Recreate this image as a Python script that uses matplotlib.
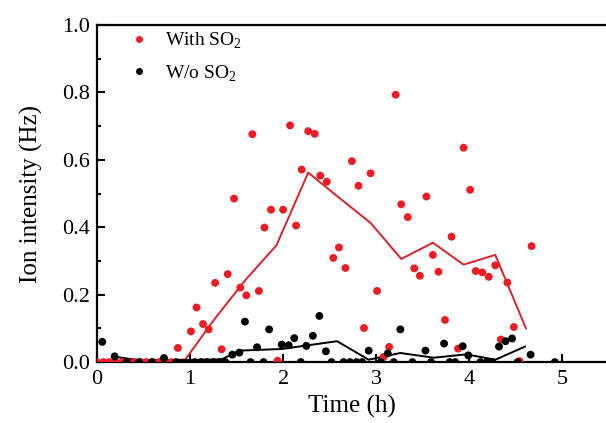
import numpy as np
import matplotlib.pyplot as plt
from matplotlib.lines import Line2D
from matplotlib.ticker import MultipleLocator

plt.rcParams['font.family'] = ['Liberation Serif', 'DejaVu Serif']
plt.rcParams['mathtext.fontset'] = 'custom'
plt.rcParams['mathtext.rm'] = 'Liberation Serif'

# with SO2: scatter points (time in h, intensity in Hz)
with_t = [0.0, 0.07, 0.13, 0.2, 0.27, 0.33, 0.4, 0.47, 0.53, 0.6, 0.67, 0.73, 0.8,
          0.87, 1.01, 1.07, 1.14, 1.20, 1.27, 1.34, 1.405, 1.473, 1.54, 1.605, 1.67,
          1.74, 1.80, 1.87, 1.94, 2.00, 2.075, 2.14, 2.20, 2.27, 2.34, 2.40, 2.47,
          2.54, 2.60, 2.67, 2.74, 2.81, 2.87, 2.94, 3.01, 3.08, 3.14, 3.21, 3.27,
          3.34, 3.41, 3.47, 3.54, 3.61, 3.67, 3.74, 3.81, 3.88, 3.94, 4.01, 4.07,
          4.14, 4.21, 4.28, 4.34, 4.41, 4.48, 4.54, 4.67]
with_v = [0.0, 0.0, 0.0, 0.0, 0.0, 0.0, 0.0, 0.0, 0.0, 0.0, 0.0, 0.0, 0.0,
          0.042, 0.091, 0.162, 0.113, 0.097, 0.235, 0.038, 0.261, 0.485, 0.221, 0.198, 0.676,
          0.211, 0.399, 0.452, 0.004, 0.452, 0.702, 0.405, 0.571, 0.685, 0.677, 0.553, 0.535,
          0.309, 0.340, 0.279, 0.596, 0.523, 0.101, 0.560, 0.211, 0.015, 0.045, 0.793, 0.468,
          0.430, 0.278, 0.256, 0.491, 0.318, 0.268, 0.125, 0.372, 0.040, 0.636, 0.511, 0.270,
          0.266, 0.253, 0.287, 0.067, 0.236, 0.104, 0.003, 0.344]

# with SO2: averaged trend line
with_line_t = [0.0, 0.28, 0.61, 0.95, 1.27, 1.6, 1.93, 2.27, 2.6, 2.94, 3.27, 3.61, 3.94, 4.28, 4.61]
with_line_v = [0.003, 0.003, 0.003, 0.008, 0.13, 0.245, 0.347, 0.562, 0.488, 0.413, 0.306, 0.354, 0.289, 0.318, 0.100]

# without SO2: scatter points
wo_t = [0.057, 0.19, 0.32, 0.45, 0.59, 0.72, 0.85, 1.05, 1.12, 1.18, 1.25, 1.32, 1.38,
        1.455, 1.53, 1.59, 1.65, 1.72, 1.79, 1.85, 1.985, 2.06, 2.12, 2.19, 2.25, 2.32,
        2.39, 2.46, 2.52, 2.65, 2.72, 2.79, 2.85, 2.92, 3.05, 3.125, 3.19, 3.26, 3.39,
        3.53, 3.59, 3.73, 3.79, 3.85, 3.93, 3.99, 4.12, 4.19, 4.25, 4.32, 4.39, 4.46,
        4.52, 4.66, 4.92]
wo_v = [0.060, 0.017, 0.0, 0.0, 0.0, 0.012, 0.0, 0.0, 0.0, 0.0, 0.0, 0.0, 0.0,
        0.022, 0.028, 0.120, 0.0, 0.044, 0.0, 0.097, 0.052, 0.050, 0.071, 0.0, 0.048, 0.078,
        0.137, 0.032, 0.0, 0.0, 0.0, 0.0, 0.0, 0.034, 0.0, 0.026, 0.0, 0.097, 0.0,
        0.034, 0.0, 0.055, 0.0, 0.0, 0.047, 0.020, 0.0, 0.0, 0.0, 0.046, 0.062, 0.070,
        0.0, 0.022, 0.0]

# without SO2: averaged trend line
wo_line_t = [0.21, 0.44, 0.95, 1.34, 1.53, 1.99, 2.58, 2.92, 3.26, 3.62, 3.97, 4.28, 4.60]
wo_line_v = [0.015, 0.006, 0.006, 0.008, 0.034, 0.039, 0.062, 0.007, 0.027, 0.013, 0.023, 0.007, 0.046]

red = '#ec1c24'

fig = plt.figure(figsize=(6.06, 4.23), dpi=100)
ax = fig.add_axes([0.160, 0.144, 0.840, 0.797])

ax.scatter(with_t, with_v, s=32, color=red, edgecolors='none', zorder=3)
ax.plot(with_line_t, with_line_v, color='#d8232a', lw=1.4, zorder=2)
ax.scatter(wo_t, wo_v, s=32, color='black', edgecolors='none', zorder=4)
ax.plot(wo_line_t, wo_line_v, color='black', lw=1.4, zorder=2)

ax.set_xlim(0, 5.47)
ax.set_ylim(0, 1.0)
ax.xaxis.set_major_locator(MultipleLocator(1))
ax.yaxis.set_major_locator(MultipleLocator(0.2))
ax.yaxis.set_minor_locator(MultipleLocator(0.1))
ax.yaxis.set_major_formatter(plt.FormatStrFormatter('%.1f'))
ax.tick_params(axis='both', which='major', direction='in', length=6, width=1.5,
               labelsize=16, pad=5)
ax.tick_params(axis='x', which='major', pad=6)
ax.tick_params(axis='y', which='minor', direction='in', length=3, width=1.5)
for side in ['left', 'bottom', 'top']:
    ax.spines[side].set_linewidth(1.6)
ax.spines['right'].set_visible(False)

ax.set_xlabel('Time (h)', fontsize=18, labelpad=4)
ax.set_ylabel('Ion intensity (Hz)', fontsize=18, labelpad=14)

handles = [Line2D([], [], ls='none', marker='o', ms=5, color=red, mec='none'),
           Line2D([], [], ls='none', marker='o', ms=5, color='black', mec='none')]
ax.legend(handles, ['With SO$_2$', 'W/o SO$_2$'], loc='upper left',
          bbox_to_anchor=(0.026, 1.036), frameon=False, fontsize=14,
          handletextpad=0.7, labelspacing=0.65, handlelength=1.2)

fig.savefig('out.png', dpi=100)
